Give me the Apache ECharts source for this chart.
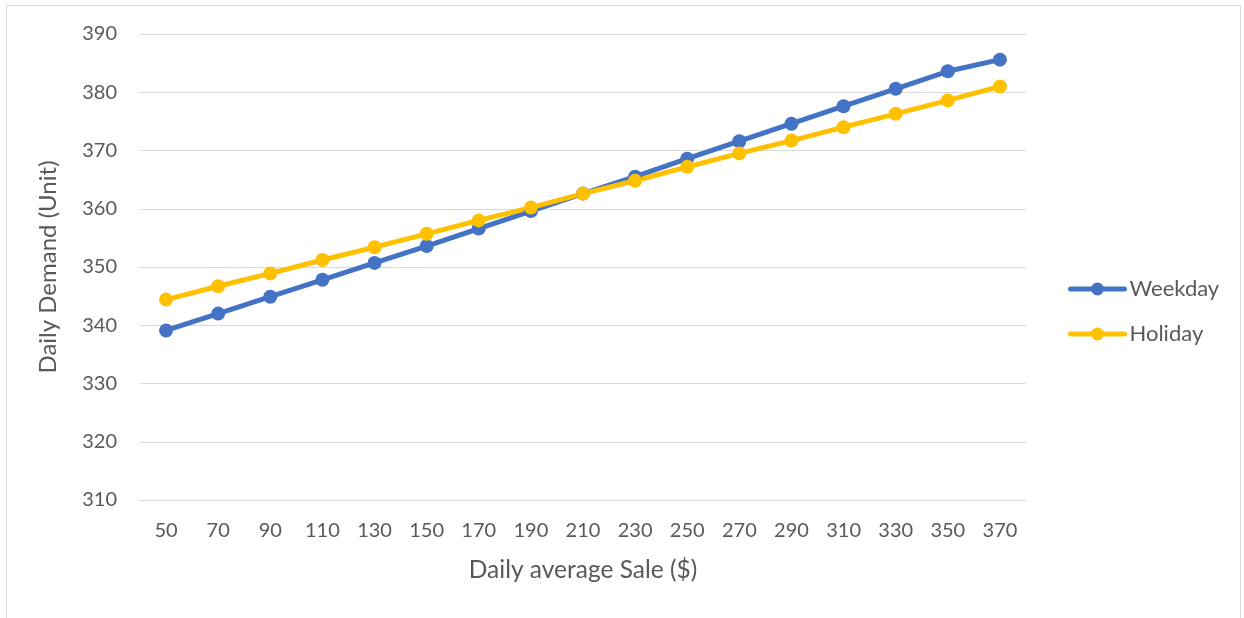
<!DOCTYPE html>
<html>
<head>
<meta charset="utf-8">
<script src="https://cdn.jsdelivr.net/npm/echarts@6/dist/echarts.min.js"></script>
<style>
  html, body { margin: 0; padding: 0; background: #ffffff; }
  #chart { width: 1244px; height: 618px; }
</style>
</head>
<body>
<div id="chart"></div>
<script>
// Daily average sale ($) on the x axis
const saleLevels = ['50', '70', '90', '110', '130', '150', '170', '190', '210', '230', '250', '270', '290', '310', '330', '350', '370'];

// Daily demand (units) for each day type
const weekdayDemand = [339.1, 342.0, 344.9, 347.8, 350.7, 353.6, 356.6, 359.6, 362.6, 365.5, 368.6, 371.6, 374.6, 377.6, 380.6, 383.6, 385.6];
const holidayDemand = [344.4, 346.7, 348.9, 351.2, 353.4, 355.7, 358.0, 360.2, 362.6, 364.8, 367.2, 369.5, 371.7, 374.0, 376.3, 378.6, 381.0];

const seriesNames = ['Weekday', 'Holiday'];
const seriesColors = ['#4472C4', '#FFC000'];

const fontFamily = 'Lato, "Open Sans", sans-serif';
const textColor = '#595959';

const chart = echarts.init(document.getElementById('chart'), null, { renderer: 'canvas' });

function lineSeries(name, data, color) {
  return {
    name: name,
    type: 'line',
    data: data,
    symbol: 'circle',
    symbolSize: 14,
    lineStyle: { width: 5, color: color, cap: 'round', join: 'round' },
    itemStyle: { color: color },
    emphasis: { disabled: true },
    animation: false
  };
}

chart.setOption({
  backgroundColor: '#ffffff',
  textStyle: { fontFamily: fontFamily },
  graphic: [{
    type: 'rect',
    shape: { x: 6.5, y: 5.5, width: 1234, height: 640 },
    style: { fill: 'none', stroke: '#d9d9d9', lineWidth: 1 },
    silent: true,
    z: -1
  }],
  grid: { left: 140, right: 218, top: 34, bottom: 118, containLabel: false },
  legend: {
    orient: 'vertical',
    left: 1063,
    top: 273,
    itemWidth: 54,
    itemHeight: 16,
    itemGap: 23,
    data: seriesNames,
    lineStyle: { width: 5 },
    textStyle: { color: textColor, fontSize: 22, fontFamily: fontFamily },
    selectedMode: false
  },
  xAxis: {
    type: 'category',
    data: saleLevels,
    boundaryGap: true,
    name: 'Daily average Sale ($)',
    nameLocation: 'middle',
    nameGap: 58,
    nameTextStyle: { color: textColor, fontSize: 24.5, fontFamily: fontFamily },
    axisLine: { show: true, lineStyle: { color: '#d9d9d9', width: 1 } },
    axisTick: { show: false },
    axisLabel: { color: textColor, fontSize: 20, margin: 21, interval: 0, fontFamily: fontFamily },
    splitLine: { show: false }
  },
  yAxis: {
    type: 'value',
    min: 310,
    max: 390,
    interval: 10,
    name: 'Daily Demand (Unit)',
    nameLocation: 'middle',
    nameGap: 80,
    nameRotate: 90,
    nameTextStyle: { color: textColor, fontSize: 24, fontFamily: fontFamily },
    axisLine: { show: false },
    axisTick: { show: false },
    axisLabel: { color: textColor, fontSize: 20, margin: 23, fontFamily: fontFamily },
    splitLine: { show: true, lineStyle: { color: '#d9d9d9', width: 1 } }
  },
  series: [
    lineSeries(seriesNames[0], weekdayDemand, seriesColors[0]),
    lineSeries(seriesNames[1], holidayDemand, seriesColors[1])
  ]
});
</script>
</body>
</html>
